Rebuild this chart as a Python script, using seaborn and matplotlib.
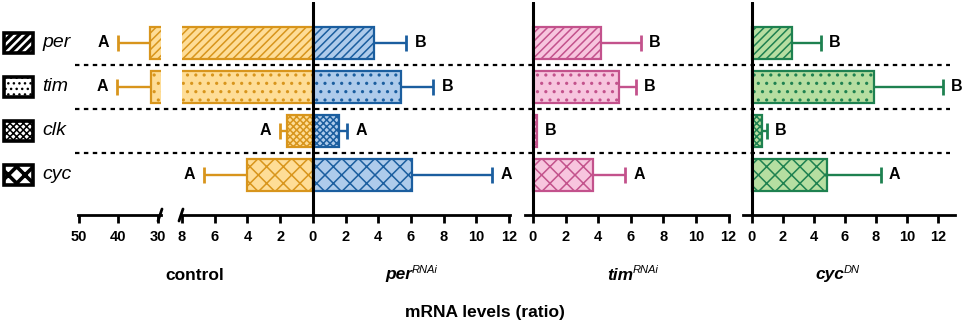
import numpy as np
import pandas as pd
import matplotlib
matplotlib.use("Agg")
import matplotlib.pyplot as plt
import seaborn as sns
from matplotlib.patches import Rectangle
from matplotlib.lines import Line2D
from matplotlib.transforms import blended_transform_factory

# ---------------- data ----------------
genes = ["per", "tim", "clk", "cyc"]
panel_names = ["control", "per", "tim", "cyc"]
panel_sups = ["", "RNAi", "RNAi", "DN"]

control_vals = [32.0, 31.8, 1.59, 4.04]
control_err = [8.1, 8.6, 0.43, 2.63]
control_letters = ["A", "A", "A", "A"]

per_vals = [3.74, 5.39, 1.59, 6.06]
per_err = [1.96, 1.96, 0.49, 4.90]
per_letters = ["B", "B", "A", "A"]

tim_vals = [4.20, 5.28, 0.22, 3.65]
tim_err = [2.40, 1.02, 0.0, 1.99]
tim_letters = ["B", "B", "B", "A"]

cyc_vals = [2.58, 7.87, 0.65, 4.84]
cyc_err = [1.87, 4.43, 0.32, 3.46]
cyc_letters = ["B", "B", "B", "A"]

left_ticks = [50, 40, 30]
main_ticks = [-8, -6, -4, -2, 0, 2, 4, 6, 8, 10, 12]
right_ticks = [0, 2, 4, 6, 8, 10, 12]

hatches = ["////", "..", "xxxxx", "xx"]

# colours (fill, edge)
ORANGE = ("#FEDD97", "#D8951C")
BLUE = ("#AECBEB", "#1B5E9F")
PINK = ("#F7C5DE", "#C3528C")
GREEN = ("#B6DEA1", "#1E8150")

# ---------------- style ----------------
sns.set_style("white")
plt.rcParams["font.family"] = ["Liberation Sans", "DejaVu Sans"]
plt.rcParams["hatch.linewidth"] = 1.1
plt.rcParams["text.color"] = "black"
plt.rcParams["axes.labelcolor"] = "black"
plt.rcParams["xtick.color"] = "black"
plt.rcParams["ytick.color"] = "black"

W, H = 964, 328
fig = plt.figure(figsize=(W / 100, H / 100), dpi=100)

AX_TOP, AX_BOT = 2, 215
bottom = (H - AX_BOT) / H
height = (AX_BOT - AX_TOP) / H
YLIM = (3.91, -0.93)


def fx(px):
    return px / W


def fy(py):
    return (H - py) / H


def make_ax(x0, x1, xlim):
    ax = fig.add_axes([fx(x0), bottom, fx(x1 - x0), height])
    ax.set_xlim(*xlim)
    return ax


ax_left = make_ax(78, 161, (50.2, 29.2))
ax_main = make_ax(182, 510, (-8.0, 12.05))
ax_tim = make_ax(525, 729, (-0.49, 12.02))
ax_cyc = make_ax(743, 955, (-0.58, 13.1))


def draw_bars(ax, vals, err, letters, colors, sign=1, text_dir=1, rows=(0, 1, 2, 3)):
    fill, edge = colors
    df = pd.DataFrame({"gene": genes, "value": [sign * v for v in vals]})
    n0 = len(ax.patches)
    sns.barplot(data=df, x="value", y="gene", order=genes, orient="h", ax=ax,
                color=fill, saturation=1, edgecolor=edge, linewidth=1.6,
                width=0.73, errorbar=None, zorder=2)
    for p, h in zip(ax.patches[n0:], hatches):
        p.set_hatch(h)
        p.set_facecolor(fill)
        p.set_edgecolor(edge)
    for i in rows:
        v, e, l = vals[i], err[i], letters[i]
        x0 = sign * v
        x1 = sign * (v + e)
        if e > 0:
            ax.hlines(i, x0, x1, color=edge, lw=1.7, zorder=1)
            ax.vlines(x1, i - 0.19, i + 0.19, color=edge, lw=2.0, zorder=1)
        ax.annotate(l, (x1, i), xytext=(6 * text_dir, 0), textcoords="offset points",
                    ha="left" if text_dir > 0 else "right", va="center",
                    fontweight="bold", fontsize=11.5, color="black",
                    annotation_clip=False)


# control (broken axis) + per RNAi
draw_bars(ax_left, control_vals, control_err, control_letters, ORANGE,
          sign=1, text_dir=-1, rows=(0, 1))
draw_bars(ax_main, control_vals, control_err, control_letters, ORANGE,
          sign=-1, text_dir=-1, rows=(2, 3))
draw_bars(ax_main, per_vals, per_err, per_letters, BLUE)
draw_bars(ax_tim, tim_vals, tim_err, tim_letters, PINK)
draw_bars(ax_cyc, cyc_vals, cyc_err, cyc_letters, GREEN)

for ax, ticks, lbls in [
    (ax_left, left_ticks, [str(t) for t in left_ticks]),
    (ax_main, main_ticks, [str(abs(t)) for t in main_ticks]),
    (ax_tim, right_ticks, [str(t) for t in right_ticks]),
    (ax_cyc, right_ticks, [str(t) for t in right_ticks]),
]:
    ax.set_ylim(*YLIM)
    ax.set_yticks([])
    ax.set_xlabel("")
    ax.set_ylabel("")
    ax.set_xticks(ticks)
    ax.set_xticklabels(lbls, fontweight="bold", fontsize=10.5, color="black")
    ax.tick_params(axis="x", direction="out", length=6, width=2, pad=5,
                   bottom=True, colors="black")
    for s in ["top", "right", "left"]:
        ax.spines[s].set_visible(False)
    ax.spines["bottom"].set_linewidth(2)
    ax.spines["bottom"].set_color("black")
    ax.patch.set_alpha(0)
    if ax is not ax_left:
        ax.axvline(0, color="black", lw=2.2, zorder=5)

# break marks
for xb in (160, 181):
    fig.add_artist(Line2D([fx(xb - 2), fx(xb + 2)], [fy(221), fy(209)],
                          color="black", lw=2, transform=fig.transFigure))

# dashed separators across the figure
tr = blended_transform_factory(fig.transFigure, ax_main.transData)
for yy in (0.5, 1.5, 2.5):
    fig.add_artist(Line2D([fx(75), fx(950)], [yy, yy], color="black", lw=1.6,
                          linestyle=(0, (2, 2)), transform=tr, zorder=0))

# legend on left
ax_leg = fig.add_axes([0, bottom, fx(75), height])
ax_leg.set_xlim(0, 75)
ax_leg.set_ylim(*YLIM)
ax_leg.axis("off")
leg_styles = [
    ("black", "white", "////", 1.8),
    ("white", "black", "...", 1.0),
    ("white", "black", "xxxxx", 1.1),
    ("white", "black", "xx", 2.6),
]
for i, (g, (fc, hc, hh, hlw)) in enumerate(zip(genes, leg_styles)):
    r = Rectangle((3.5, i - 0.22), 29, 0.44, facecolor=fc, edgecolor=hc, lw=0,
                  hatch=hh)
    try:
        r.set_hatch_linewidth(hlw)
    except AttributeError:
        pass
    ax_leg.add_patch(r)
    ax_leg.add_patch(Rectangle((3.5, i - 0.22), 29, 0.44, facecolor="none",
                               edgecolor="black", lw=2.6))
    ax_leg.text(42, i, g, fontstyle="italic", fontsize=14, va="center", ha="left",
                color="black")

# panel labels
centers = [195, 411, 632, 838]
for c, name, sup in zip(centers, panel_names, panel_sups):
    if sup == "":
        fig.text(fx(c), fy(275), name, ha="center", va="center",
                 fontweight="bold", fontsize=12.5, color="black")
    else:
        shift = 1 if sup == "RNAi" else 6
        fig.text(fx(c + shift), fy(275), name, ha="right", va="center",
                 fontweight="bold", fontstyle="italic", fontsize=12.5, color="black")
        fig.text(fx(c + shift), fy(270), sup, ha="left", va="center",
                 fontstyle="italic", fontsize=8, color="black")

fig.text(fx(485), fy(312), "mRNA levels (ratio)", ha="center", va="center",
         fontweight="bold", fontsize=12.5, color="black")

fig.savefig("out.png", dpi=100)
